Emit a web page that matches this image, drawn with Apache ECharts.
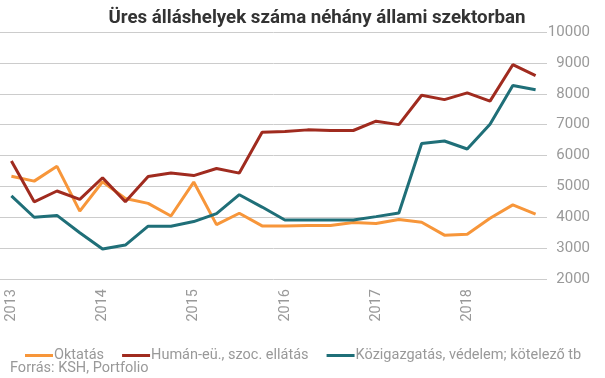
<!DOCTYPE html>
<html>
<head>
<meta charset="utf-8">
<script src="https://cdn.jsdelivr.net/npm/echarts@6/dist/echarts.min.js"></script>
<style>html,body{margin:0;padding:0;background:#fff}#c{width:605px;height:378px}</style>
</head>
<body>
<div id="c"></div>
<script>
const categories = [
  "2013 Q1","2013 Q2","2013 Q3","2013 Q4",
  "2014 Q1","2014 Q2","2014 Q3","2014 Q4",
  "2015 Q1","2015 Q2","2015 Q3","2015 Q4",
  "2016 Q1","2016 Q2","2016 Q3","2016 Q4",
  "2017 Q1","2017 Q2","2017 Q3","2017 Q4",
  "2018 Q1","2018 Q2","2018 Q3","2018 Q4"
];
const oktatas = [5330,5170,5650,4200,5150,4610,4450,4040,5140,3760,4130,3720,3720,3730,3730,3830,3800,3930,3840,3420,3450,3970,4400,4100];
const human = [5820,4500,4850,4580,5280,4500,5320,5430,5350,5580,5430,6750,6780,6830,6810,6810,7110,7000,7950,7810,8030,7760,8940,8590];
const kozig = [4690,4000,4060,3500,2970,3100,3710,3710,3860,4120,4730,4330,3910,3910,3910,3910,4020,4140,6390,6470,6210,7010,8270,8130];
const seriesNames = ["Oktatás","Humán-eü., szoc. ellátás","Közigazgatás, védelem; kötelező tb"];
const colors = ["#F7963A","#A02B1F","#1F6F78"];
const yMin = 2000, yMax = 10000, yStep = 1000;

const chart = echarts.init(document.getElementById('c'));
const mk = (name, data, color) => ({
  name, type: 'line', data, symbol: 'none', smooth: false,
  lineStyle: { color, width: 3 }, itemStyle: { color }
});
chart.setOption({
  animation: false,
  title: {
    text: 'Üres álláshelyek száma néhány állami szektorban',
    left: 312, textAlign: 'center', top: 4,
    textStyle: { fontFamily: 'Roboto', fontWeight: 'bold', fontSize: 18.7, color: '#333' }
  },
  grid: { left: 0, right: 58, top: 32, bottom: 99, containLabel: false },
  legend: {
    left: 20, top: 343, itemWidth: 28, itemHeight: 3, icon: 'rect', itemGap: 18,
    data: seriesNames,
    textStyle: { fontFamily: 'Roboto', fontSize: 14.5, color: '#999', padding: [0,0,0,-4] }
  },
  graphic: [{
    type: 'text', left: 10, top: 361,
    style: { text: 'Forrás: KSH, Portfolio', fontFamily: 'Roboto', fontSize: 14.5, fill: '#999' }
  }],
  xAxis: {
    type: 'category', data: categories, boundaryGap: true,
    axisLine: { show: false }, axisTick: { show: false },
    axisLabel: {
      interval: 3, rotate: 90, margin: 10,
      formatter: v => v.slice(0,4),
      fontFamily: 'Roboto', fontSize: 14.5, color: '#999'
    }
  },
  yAxis: {
    type: 'value', position: 'right', min: yMin, max: yMax, interval: yStep,
    axisLine: { show: false }, axisTick: { show: false },
    splitLine: { lineStyle: { color: '#ccc', width: 1 } },
    axisLabel: { align: 'right', margin: 43, formatter: v => String(v), fontFamily: 'Roboto', fontSize: 15, color: '#999' }
  },
  series: [mk(seriesNames[0], oktatas, colors[0]), mk(seriesNames[1], human, colors[1]), mk(seriesNames[2], kozig, colors[2])]
});
</script>
</body>
</html>
